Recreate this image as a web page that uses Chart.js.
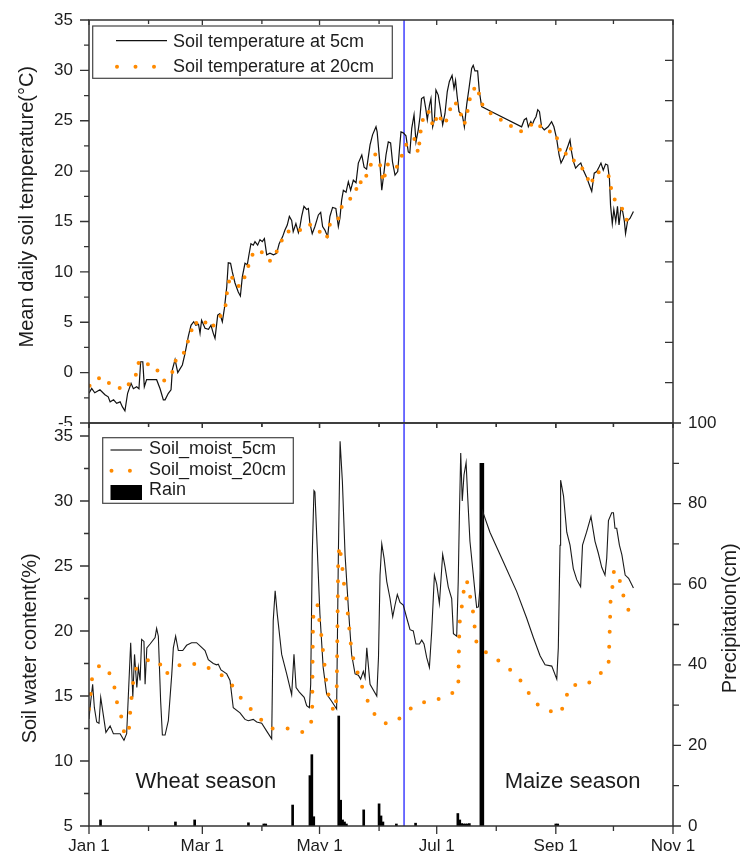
<!DOCTYPE html>
<html>
<head>
<meta charset="utf-8">
<title>Soil temperature and soil water content</title>
<script src="https://cdn.jsdelivr.net/npm/chart.js@4.4.1/dist/chart.umd.min.js"></script>
<style>
  body { margin: 0; background: #fff; }
  #wrap { position: relative; width: 740px; height: 851px; overflow: hidden; background: #fff; }
  canvas { position: absolute; left: 0; }
  #tempChart { top: 0; }
  #moistChart { top: 411px; }
</style>
</head>
<body>
<div id="wrap">
  <canvas id="tempChart" width="740" height="445"></canvas>
  <canvas id="moistChart" width="740" height="440"></canvas>
</div>
<script>
// x axis is day of year, Jan 1 = 0
const monthTicks = [0, 59, 120, 181, 243, 304];
const monthLabels = ['Jan 1', 'Mar 1', 'May 1', 'Jul 1', 'Sep 1', 'Nov 1'];
const monthMinor = [31, 90, 151, 212, 273];
const seasonSplitDay = 164;

const tempTicks = [-5, 0, 5, 10, 15, 20, 25, 30, 35];
const tempMinor = [-2.5, 2.5, 7.5, 12.5, 17.5, 22.5, 27.5, 32.5];
const swcTicks = [5, 10, 15, 20, 25, 30, 35];
const swcMinor = [7.5, 12.5, 17.5, 22.5, 27.5, 32.5];
const rainTicks = [0, 20, 40, 60, 80, 100];
const rainMinor = [10, 30, 50, 70, 90];

// soil temperature at 5cm
const temp5Day = [
  0, 1.4, 3, 5.7, 8.3, 10, 11, 12.8, 14.4, 16.2,
  17.4, 18.7, 20.1, 21.9, 23.1, 24.8, 26, 26.9, 28, 28.8,
  30, 35.2, 37, 38.7, 39.6, 41.3, 42.7, 43.4, 44.8, 46.2,
  48.6, 50, 51.7, 53.1, 54.5, 55.6, 57, 57.8, 58.6, 60.4,
  62.2, 63.5, 64.7, 65.6, 67, 68.1, 69.4, 70.5, 71.7, 72.5,
  73.7, 74.6, 76, 77.7, 78.8, 79.8, 81.2, 82.4, 83.4, 84.3,
  85.5, 86.4, 87.8, 89, 90.2, 91.3, 92.5, 94.2, 96, 97.7,
  99, 100.8, 102, 103.2, 104.3, 105.5, 106.3, 107.7, 109, 109.8,
  110.7, 111.9, 113.3, 114.2, 115, 116.2, 117.6, 119.4, 120.6, 121.6,
  122.8, 124.2, 125.4, 126.8, 128.5, 129.8, 130.6, 131.5, 132.4, 133.8,
  135, 136.2, 137.6, 139, 140.2, 142, 143.2, 144.5, 146.3, 147.6,
  149.4, 150, 151.5, 152.4, 153.6, 154.6, 155.8, 157, 158, 159.3,
  160.7, 161.5, 162.4, 163.6, 165, 166.2, 167, 168, 169.2, 170.2,
  171.4, 172.3, 173.1, 174.3, 175.3, 176.1, 177.2, 178, 178.9, 179.8,
  180.6, 181.8, 183, 184.1, 185.3, 186.5, 187.6, 189, 190, 190.8,
  191.6, 192.6, 194.3, 195.4, 196.6, 197.8, 199.2, 200, 200.9, 202.3,
  203.2, 204.4, 209.6, 225.2, 226.6, 227.7, 228.7, 230, 230.7, 231.8,
  232.7, 233.6, 234.5, 235.6, 237, 239, 240.8, 242, 243.4, 244.7,
  245.7, 247, 248.2, 249.5, 250.4, 251.2, 252.1, 253.3, 254.7, 256,
  257.3, 259, 260.8, 261.7, 263, 264.3, 265.5, 266.5, 267.7, 268.9,
  270, 270.9, 271.5, 272.4, 273.2, 274.2, 275.1, 275.9, 276.9, 277.8,
  278.7, 279.3, 280.4, 281.6, 283.4
];
const temp5 = [
  -2.05, -1.56, -2.0, -1.7, -2.2, -2.4, -2.9, -2.7, -3.05, -2.9,
  -3.4, -3.8, -2.05, -1.06, -1.6, -1.4, -1.6, 1.08, 1.08, -1.4,
  -0.7, -0.7, -1.6, -2.7, -2.7, -2.05, -1.7, 0.3, 1.3, 0.0,
  0.76, 1.9, 3.6, 4.7, 5.05, 4.7, 4.8, 3.9, 5.2, 4.4,
  4.3, 4.7, 3.9, 3.4, 5.7, 5.85, 5.05, 6.4, 8.5, 10.9,
  10.85, 10.0, 8.9, 8.0, 7.6, 9.5, 10.85, 10.7, 11.85, 12.8,
  12.65, 13.0, 12.65, 13.2, 13.0, 13.3, 11.7, 11.85, 11.7, 11.85,
  12.8, 13.5, 14.15, 14.65, 15.5, 15.1, 14.0, 14.8, 13.9, 14.5,
  15.5, 16.5, 16.2, 16.3, 14.8, 13.8, 14.5, 15.65, 15.9, 14.5,
  14.15, 13.5, 15.5, 16.4, 16.3, 14.5, 15.3, 17.1, 18.1, 17.9,
  18.95, 18.1, 19.1, 18.85, 20.8, 21.6, 20.4, 20.2, 22.6, 23.6,
  24.4, 23.9, 20.6, 18.1, 19.95, 21.6, 22.9, 22.8, 20.9, 19.6,
  19.95, 21.9, 23.9, 23.8, 23.5, 21.9, 21.8, 24.25, 25.6, 22.9,
  24.1, 25.4, 27.2, 27.35, 26.2, 25.1, 26.5, 27.2, 24.4, 25.1,
  28.05, 27.55, 26.1, 24.6, 25.7, 27.9, 28.9, 29.5, 28.2, 29.0,
  27.5, 25.9, 25.6, 24.4, 26.6, 28.2, 30.2, 30.5, 29.95, 29.95,
  27.9, 26.4, 25.9, 24.4, 25.1, 25.25, 24.4, 24.9, 24.6, 25.1,
  25.4, 26.1, 25.9, 24.4, 24.1, 24.4, 24.9, 24.4, 23.25, 21.6,
  20.8, 21.3, 21.9, 22.6, 23.1, 21.9, 21.0, 20.3, 20.6, 20.8,
  20.1, 19.4, 18.45, 18.0, 19.8, 19.95, 20.4, 20.8, 20.1, 20.7,
  20.6, 19.3, 16.6, 14.8, 16.2, 15.0, 16.5, 14.65, 16.3, 16.0,
  15.0, 13.8, 15.1, 15.3, 16.0
];

// soil temperature at 20cm
const temp20Day = [
  0.3, 5.9, 12.5, 18.5, 24.4, 26.1, 34.4, 39.2, 44.3, 45.3,
  49.6, 52.4, 54.8, 56.8, 59.8, 62.7, 66.4, 71, 72, 73.7,
  76.3, 79.4, 82.2, 84.8, 88.6, 92.4, 94.1, 96.2, 99.4, 103,
  108.6, 114.6, 118.9, 123.7, 125.5, 129.3, 131.6, 134.8, 138.3, 140.4,
  142.5, 145.6, 148.9, 151.2, 153.3, 155, 157.6, 160.2, 162.8, 165.4,
  168, 169.2, 171.4, 173.2, 176.6, 179.2, 181.8, 184.4, 187, 188.7,
  190.5, 193.2, 195.4, 197.5, 198.9, 202.3, 203.8, 209.3, 216.6, 224.4,
  228.4, 233.1, 236.6, 243, 244.7, 247.3, 250.4, 252.6, 257.8, 261.1,
  263.7, 266.5, 270.3, 272, 273.8, 277.8, 280
];
const temp20 = [
  -1.3, -0.46, -1.3, -1.7, -0.2, 1.2, 0.55, -0.8, 0.26, 1.4,
  2.0, 3.6, 5.1, 4.8, 5.2, 4.4, 4.9, 6.55, 8.2, 9.8,
  8.6, 8.6, 10.15, 11.65, 12.2, 11.5, 11.1, 11.35, 12.8, 14.0,
  14.0, 14.75, 14.2, 13.3, 14.8, 15.0, 16.5, 17.1, 17.6, 19.1,
  18.7, 20.1, 21.7, 20.9, 18.9, 20.6, 20.9, 20.4, 21.5, 22.75,
  23.0, 23.3, 21.8, 24.9, 26.0, 24.4, 25.75, 24.6, 25.3, 26.7,
  26.9, 25.85, 24.65, 26.3, 27.9, 28.45, 26.8, 25.7, 24.85, 23.9,
  24.4, 24.9, 24.0, 23.85, 22.25, 21.4, 22.5, 20.9, 20.1, 18.6,
  19.9, 19.9, 19.7, 18.1, 17.1, 16.2, 15.1
];

// soil water content at 5cm (%)
const swc5Day = [
  0, 0.9, 1.9, 2.8, 4, 5.2, 6.1, 7.1, 8.8, 11,
  12.7, 16.2, 18.2, 19.6, 20.5, 21.7, 22.8, 23.7, 24.9, 25.7,
  26.6, 27.4, 28.6, 29.2, 30.1, 31.8, 34.4, 35.2, 36.1, 37.3,
  38.2, 39.6, 41.3, 43.1, 43.9, 45.1, 46.5, 48.8, 50.8, 53.4,
  56, 57.8, 60.4, 62.1, 64.7, 66.4, 67.3, 68.7, 71.7, 73.4,
  75.1, 78.6, 81.2, 82.9, 85.5, 87.3, 89.9, 92.5, 95.1, 95.9,
  96.9, 98, 100.3, 102.9, 105.5, 106.7, 107.8, 109.5, 112, 113.3,
  114.7, 115.4, 116.2, 117.1, 117.6, 118.8, 120.2, 121.9, 123.7, 126.3,
  128.9, 129.8, 130.7, 131.9, 133.3, 135, 136.7, 138.5, 140.2, 141.4,
  142.8, 143.7, 144.6, 146.3, 149.8, 150.7, 151.5, 152.4, 153.6, 155,
  156.7, 158.1, 159.3, 160.5, 161.9, 163.6, 165.4, 167.1, 168.8, 170.2,
  172, 173.2, 174.4, 175.8, 177.2, 178.4, 179.8, 181, 182.4, 184.1,
  185.3, 187, 188.8, 189.7, 191.4, 192.2, 192.8, 193.5, 194.3, 195.2,
  196.3, 197.1, 198.3, 199.7, 200.9, 201.8, 202.7, 203.5, 204.9, 208.7,
  215.6, 222.6, 227.8, 231.3, 234.8, 237.4, 240.9, 243.5, 244.3, 245.2,
  245.5, 247, 248.7, 250.4, 252.1, 253.9, 255.9, 256.9, 259, 261.3,
  263.4, 265.1, 266.9, 268.6, 269.5, 270.4, 272.1, 273, 273.8, 274.7,
  276.1, 277.4, 279.1, 280.9, 283.4
];
const swc5 = [
  13.24, 14.6, 15.9, 14.1, 13.0, 12.9, 14.9, 13.9, 12.2, 12.7,
  12.1, 12.1, 11.6, 12.1, 15.1, 19.1, 14.9, 18.2, 15.65, 17.2,
  16.2, 19.35, 19.2, 15.9, 18.7, 19.0, 19.5, 20.2, 19.6, 14.6,
  12.0, 12.0, 13.1, 16.7, 18.7, 19.6, 18.5, 18.5, 18.9, 19.1,
  19.1, 18.85, 18.5, 17.8, 17.5, 17.4, 17.45, 17.0, 16.7, 16.2,
  14.1, 13.7, 13.2, 13.1, 13.2, 13.0, 12.9, 12.3, 11.7, 20.8,
  23.1, 21.3, 18.2, 16.7, 15.1, 18.2, 15.65, 15.3, 14.9, 14.25,
  14.1, 15.9, 25.85, 30.8, 30.7, 26.4, 21.3, 17.2, 15.15, 14.6,
  14.0, 25.85, 34.6, 31.5, 25.85, 21.8, 18.2, 16.7, 16.6, 16.3,
  16.9, 16.4, 18.7, 15.9, 15.0, 18.0, 24.3, 26.7, 25.6, 23.8,
  22.5, 21.1, 22.0, 22.8, 22.2, 22.0, 21.0, 20.1, 20.0, 19.0,
  19.0, 19.3, 19.0, 17.95, 17.2, 20.0, 24.3, 23.6, 22.1, 25.9,
  24.95, 23.4, 22.5, 19.8, 19.6, 23.8, 28.8, 33.7, 30.0, 32.0,
  32.95, 30.4, 26.9, 24.85, 23.05, 21.8, 21.85, 23.3, 29.2, 27.6,
  25.35, 23.05, 21.0, 19.5, 18.1, 17.4, 17.3, 16.3, 18.7, 26.6,
  31.6, 30.4, 27.6, 26.6, 24.8, 23.95, 23.4, 26.6, 27.6, 28.8,
  26.9, 26.0, 24.9, 24.3, 25.6, 28.5, 29.1, 29.1, 27.9, 27.9,
  26.6, 25.85, 24.3, 24.05, 23.3
];

// soil water content at 20cm (%)
const swc20Day = [
  0, 1, 1.7, 5.7, 10, 13.2, 14.6, 17, 18.5, 20.6,
  21.2, 21.9, 22.7, 23.8, 29.5, 36.1, 39.6, 44.4, 53.1, 60.4,
  67, 73, 77, 82.6, 88.1, 94.4, 103.2, 112.1, 115.6, 116.2,
  116.4, 116.6, 117, 118.9, 119.9, 121.1, 122, 122.9, 123.8, 125.5,
  127.7, 128.9, 129.1, 129.3, 129.5, 129.7, 130.3, 131.6, 132.5, 133.8,
  134.6, 135.5, 136.3, 137.8, 140.4, 142.8, 146.3, 149.8, 155, 161.9,
  168, 173.2, 179.2, 185.3, 191.4, 192.2, 192.5, 192.8, 193.9, 194.8,
  196.6, 198.3, 200, 200.9, 201.8, 205.3, 214.8, 221.8, 227.5, 231,
  238.3, 245.5, 248.4, 250.7, 259, 264.3, 270.4, 271, 271.5, 272.6,
  273.3, 275.6, 278.7, 282.1
];
const swc20 = [
  14.0, 15.3, 16.55, 17.4, 17.0, 15.7, 14.5, 13.3, 12.0, 12.0,
  13.3, 14.5, 15.7, 17.0, 17.75, 17.75, 16.6, 17.3, 17.5, 17.3,
  16.8, 16.2, 15.2, 14.25, 13.4, 12.5, 12.5, 12.2, 12.9, 14.1,
  18.0, 20.5, 21.8, 22.05, 20.8, 19.5, 18.2, 17.0, 15.7, 14.5,
  13.75, 14.9, 17.4, 20.0, 22.5, 25.1, 26.6, 25.35, 23.8, 22.8,
  21.5, 20.2, 19.0, 17.7, 16.55, 15.4, 14.2, 13.3, 12.85, 13.3,
  14.1, 14.5, 14.6, 14.95, 15.4, 15.5, 17.95, 20.5, 21.65, 22.9,
  23.95, 22.7, 21.4, 20.1, 19.0, 18.5, 17.55, 16.7, 15.65, 14.6,
  13.9, 13.65, 14.95, 15.85, 15.85, 16.55, 17.2, 19.7, 22.3, 23.55,
  24.7, 24.3, 22.4, 21.15
];

// daily precipitation (cm)
const rainDay = [6, 45, 55, 83, 91, 92, 106, 115, 116, 117,
  130, 131, 132, 133, 134, 143, 151, 152, 153, 160,
  170, 192, 193, 194, 195, 196, 197, 198, 204, 205,
  243, 244];
const rain = [1.5, 1.0, 1.5, 0.8, 0.5, 0.5, 5.2, 12.5, 17.7, 2.3,
  27.3, 6.4, 1.5, 1.0, 0.5, 4.0, 5.5, 2.5, 1.0, 0.5,
  0.7, 3.1, 1.5, 0.6, 0.5, 0.5, 0.5, 0.6, 90, 90,
  0.5, 0.5];

const ink = '#1c1c1c';
const frameInk = '#333';
const orange = '#ff8a00';
const splitBlue = '#3f3fff';
const fontFamily = '"Liberation Sans", Arial, sans-serif';
Chart.defaults.font.family = fontFamily;

function toPoints(xs, ys) {
    return xs.map(function(x, i) { return { x: x, y: ys[i] }; });
}

function setTicks(values) {
    return function(scale) { scale.ticks = values.map(function(v) { return { value: v }; }); };
}

// hidden grid, but the tick length still spaces the labels off the frame
function labelGap(gap) {
    return { display: false, drawTicks: true, tickLength: gap };
}

// tick marks along one edge of the plot frame; negative length points inward
function edgeTicks(ctx, area, scale, values, edge, len) {
    ctx.beginPath();
    values.forEach(function(v) {
        const p = scale.getPixelForValue(v);
        if (edge === 'left') { ctx.moveTo(area.left, p); ctx.lineTo(area.left - len, p); }
        else if (edge === 'right') { ctx.moveTo(area.right, p); ctx.lineTo(area.right + len, p); }
        else if (edge === 'top') { ctx.moveTo(p, area.top); ctx.lineTo(p, area.top - len); }
        else { ctx.moveTo(p, area.bottom); ctx.lineTo(p, area.bottom + len); }
    });
    ctx.stroke();
}

function drawSplit(chart) {
    const a = chart.chartArea, ctx = chart.ctx;
    const x = chart.scales.x.getPixelForValue(seasonSplitDay);
    ctx.save();
    ctx.strokeStyle = splitBlue;
    ctx.lineWidth = 1.5;
    ctx.beginPath();
    ctx.moveTo(x, a.top);
    ctx.lineTo(x, a.bottom);
    ctx.stroke();
    ctx.restore();
}

function drawFrame(chart, ticks) {
    const a = chart.chartArea, ctx = chart.ctx;
    ctx.save();
    ctx.strokeStyle = frameInk;
    ctx.lineWidth = 1.5;
    ctx.strokeRect(a.left, a.top, a.right - a.left, a.bottom - a.top);
    ctx.lineWidth = 1.3;
    ticks.forEach(function(t) { edgeTicks(ctx, a, chart.scales[t[0]], t[1], t[2], t[3]); });
    ctx.restore();
}

function drawLegend(chart, box, sample) {
    const ctx = chart.ctx;
    ctx.save();
    ctx.fillStyle = '#fff';
    ctx.fillRect(box.x, box.y, box.w, box.h);
    ctx.strokeStyle = '#444';
    ctx.lineWidth = 1.2;
    ctx.strokeRect(box.x, box.y, box.w, box.h);
    ctx.font = '18px ' + fontFamily;
    ctx.textBaseline = 'middle';
    ctx.textAlign = 'left';
    chart.data.datasets.forEach(function(ds, i) {
        const y = sample.rows[i];
        if (ds.type === 'bar') {
            ctx.fillStyle = ds.backgroundColor;
            ctx.fillRect(sample.x0, y - 7.5, sample.x1 - sample.x0, 15);
        } else if (ds.borderDash) {
            ctx.strokeStyle = ds.borderColor;
            ctx.lineWidth = ds.borderWidth;
            ctx.lineCap = 'round';
            ctx.setLineDash([0, sample.dotGap]);
            ctx.beginPath();
            ctx.moveTo(sample.x0 + 1, y);
            ctx.lineTo(sample.dotEnd, y);
            ctx.stroke();
            ctx.setLineDash([]);
        } else {
            ctx.strokeStyle = ds.borderColor;
            ctx.lineWidth = 1.2;
            ctx.lineCap = 'butt';
            ctx.beginPath();
            ctx.moveTo(sample.x0, y);
            ctx.lineTo(sample.x1, y);
            ctx.stroke();
        }
        ctx.fillStyle = ink;
        ctx.fillText(ds.label, sample.textX, sample.textRows[i]);
    });
    ctx.restore();
}

function verticalText(ctx, text, x, y) {
    ctx.save();
    ctx.translate(x, y);
    ctx.rotate(-Math.PI / 2);
    ctx.font = '20px ' + fontFamily;
    ctx.fillStyle = ink;
    ctx.textAlign = 'center';
    ctx.textBaseline = 'alphabetic';
    ctx.fillText(text, 0, 0);
    ctx.restore();
}

const baseOptions = {
    responsive: false,
    animation: false,
    devicePixelRatio: 1,
    plugins: { legend: { display: false }, tooltip: { enabled: false } }
};

// ---- top panel: soil temperature ----
var tempChart = new Chart(document.getElementById('tempChart'), {
    type: 'line',
    data: {
        datasets: [{
            label: 'Soil temperature at 5cm',
            data: toPoints(temp5Day, temp5),
            borderColor: '#111',
            borderWidth: 1.2,
            pointRadius: 0,
            tension: 0,
            order: 1
        }, {
            label: 'Soil temperature at 20cm',
            data: toPoints(temp20Day, temp20),
            borderColor: orange,
            borderWidth: 4,
            borderDash: [0, 12],
            borderCapStyle: 'round',
            pointRadius: 0,
            tension: 0,
            order: 0
        }]
    },
    options: Object.assign({}, baseOptions, {
        layout: { padding: { left: 0, right: 67, top: 20, bottom: 22 } },
        scales: {
            x: { type: 'linear', display: false, min: 0, max: 304 },
            y: {
                min: -5, max: 35,
                afterFit: function(s) { s.width = 89; },
                afterBuildTicks: setTicks(tempTicks),
                grid: labelGap(16),
                border: { display: false },
                ticks: { padding: 0, color: ink, font: { size: 17 } }
            },
            yFrame: { type: 'linear', display: false, position: 'right', min: 0, max: 100 }
        }
    }),
    plugins: [{
        id: 'tempDecor',
        beforeDatasetsDraw: drawSplit,
        afterDraw: function(chart) {
            drawFrame(chart, [
                ['y', tempTicks, 'left', 9], ['y', tempMinor, 'left', 5],
                ['x', monthTicks, 'top', -5], ['x', monthMinor, 'top', -4],
                ['x', monthTicks, 'bottom', 5], ['x', monthMinor, 'bottom', 4],
                ['yFrame', rainMinor.concat([20, 40, 60, 80]), 'right', -8]
            ]);
            drawLegend(chart, { x: 92.7, y: 26, w: 299.6, h: 52.3 },
                { x0: 116, x1: 167, dotEnd: 155, dotGap: 18.5, textX: 173,
                  rows: [40.7, 66.7], textRows: [42, 67.2] });
            verticalText(chart.ctx, 'Mean daily soil temperature(\u00B0C)', 32.5, 206.7);
        }
    }]
});

// ---- bottom panel: soil water content and rain ----
var moistChart = new Chart(document.getElementById('moistChart'), {
    type: 'line',
    data: {
        datasets: [{
            label: 'Soil_moist_5cm',
            data: toPoints(swc5Day, swc5),
            borderColor: '#1a1a1a',
            borderWidth: 1.1,
            pointRadius: 0,
            tension: 0,
            yAxisID: 'y',
            order: 1
        }, {
            label: 'Soil_moist_20cm',
            data: toPoints(swc20Day, swc20),
            borderColor: orange,
            borderWidth: 4,
            borderDash: [0, 15],
            borderCapStyle: 'round',
            pointRadius: 0,
            tension: 0,
            yAxisID: 'y',
            order: 0
        }, {
            type: 'bar',
            label: 'Rain',
            data: toPoints(rainDay, rain),
            backgroundColor: '#000',
            borderWidth: 0,
            barThickness: 2,
            yAxisID: 'yR',
            order: 2
        }]
    },
    options: Object.assign({}, baseOptions, {
        layout: { padding: { left: 0, right: 0, top: 12, bottom: 0 } },
        scales: {
            x: {
                type: 'linear', min: 0, max: 304, offset: false,
                afterFit: function(s) { s.height = 25; },
                afterBuildTicks: setTicks(monthTicks),
                grid: labelGap(10),
                border: { display: false },
                ticks: {
                    padding: 0, color: ink, font: { size: 17 },
                    autoSkip: false, maxRotation: 0, minRotation: 0,
                    callback: function(v) { return monthLabels[monthTicks.indexOf(v)]; }
                }
            },
            y: {
                min: 5, max: 36,
                afterFit: function(s) { s.width = 89; },
                afterBuildTicks: setTicks(swcTicks),
                grid: labelGap(16),
                border: { display: false },
                ticks: { padding: 0, color: ink, font: { size: 17 } }
            },
            yR: {
                position: 'right', min: 0, max: 100,
                afterFit: function(s) { s.width = 67; },
                afterBuildTicks: setTicks(rainTicks),
                grid: labelGap(15),
                border: { display: false },
                ticks: { padding: 0, color: ink, font: { size: 17 } }
            }
        }
    }),
    plugins: [{
        id: 'moistDecor',
        beforeDraw: function(chart) {
            // the lower panel covers the bottom of the upper panel's -5 label
            const a = chart.chartArea;
            chart.ctx.save();
            chart.ctx.fillStyle = '#fff';
            chart.ctx.fillRect(0, a.top + 3, 78, 12);
            chart.ctx.restore();
        },
        beforeDatasetsDraw: drawSplit,
        afterDraw: function(chart) {
            const ctx = chart.ctx;
            drawFrame(chart, [
                ['y', swcTicks, 'left', 9], ['y', swcMinor, 'left', 5],
                ['yR', rainTicks, 'right', 8], ['yR', rainMinor, 'right', 6],
                ['x', monthTicks, 'bottom', 8], ['x', monthMinor, 'bottom', 5],
                ['x', monthTicks, 'top', -5], ['x', monthMinor, 'top', -4]
            ]);
            drawLegend(chart, { x: 102.7, y: 26.7, w: 190.6, h: 65.6 },
                { x0: 110.5, x1: 142, dotEnd: 132, dotGap: 18.4, textX: 149,
                  rows: [39, 59.7, 81.5], textRows: [38.5, 58.7, 79.2] });
            verticalText(ctx, 'Soil water content(%)', 35.5, 237.3);
            verticalText(ctx, 'Precipitation(cm)', 736, 207.3);

            const xs = chart.scales.x, ys = chart.scales.y;
            ctx.save();
            ctx.font = '22px ' + fontFamily;
            ctx.fillStyle = ink;
            ctx.textAlign = 'center';
            ctx.textBaseline = 'middle';
            ctx.fillText('Wheat season', xs.getPixelForValue(60.8), ys.getPixelForValue(8.36));
            ctx.fillText('Maize season', xs.getPixelForValue(251.7), ys.getPixelForValue(8.36));
            ctx.restore();
        }
    }]
});
</script>
</body>
</html>
